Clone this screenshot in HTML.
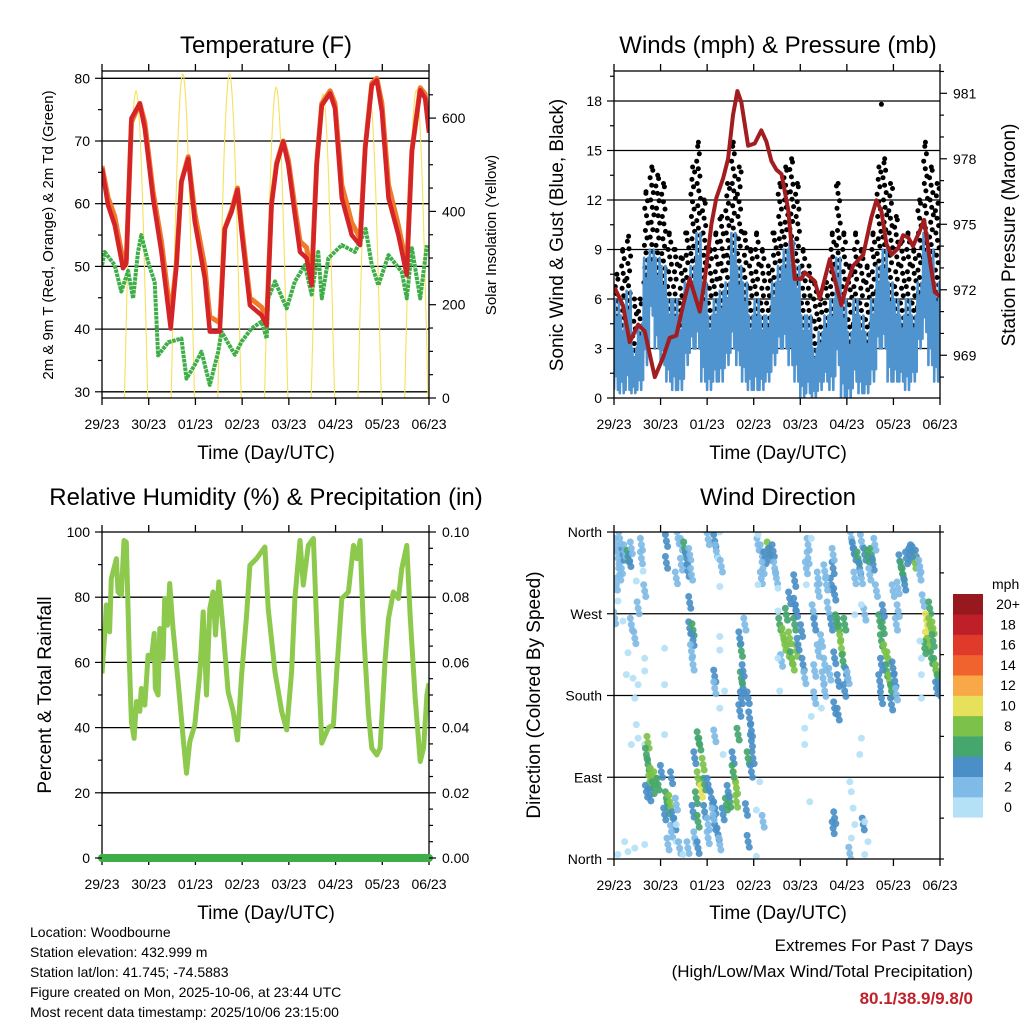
<!DOCTYPE html>
<html><head><meta charset="utf-8"><style>
html,body{margin:0;padding:0;background:#fff;}
svg{display:block;font-family:"Liberation Sans",Arial,sans-serif;}
</style></head><body>
<svg id="chart" width="1024" height="1024" viewBox="0 0 1024 1024" xmlns="http://www.w3.org/2000/svg">
<rect width="1024" height="1024" fill="#fff"/>
<g id="layer"></g>
<text x="266" y="53" font-size="24" text-anchor="middle">Temperature (F)</text>
<text x="778" y="53" font-size="24" text-anchor="middle">Winds (mph) &amp; Pressure (mb)</text>
<text x="266" y="505" font-size="24" text-anchor="middle">Relative Humidity (%) &amp; Precipitation (in)</text>
<text x="778" y="505" font-size="24" text-anchor="middle">Wind Direction</text>
<text transform="translate(53,235) rotate(-90)" font-size="15" text-anchor="middle">2m &amp; 9m T (Red, Orange) &amp; 2m Td (Green)</text>
<text transform="translate(496,235) rotate(-90)" font-size="15" text-anchor="middle">Solar Insolation (Yellow)</text>
<text transform="translate(563,235) rotate(-90)" font-size="19" text-anchor="middle">Sonic Wind &amp; Gust (Blue, Black)</text>
<text transform="translate(1015,235) rotate(-90)" font-size="19" text-anchor="middle">Station Pressure (Maroon)</text>
<text transform="translate(51,695) rotate(-90)" font-size="19" text-anchor="middle">Percent &amp; Total Rainfall</text>
<text transform="translate(540,695) rotate(-90)" font-size="19" text-anchor="middle">Direction (Colored By Speed)</text>
<text x="266" y="459" font-size="19" text-anchor="middle">Time (Day/UTC)</text>
<text x="778" y="459" font-size="19" text-anchor="middle">Time (Day/UTC)</text>
<text x="266" y="919" font-size="19" text-anchor="middle">Time (Day/UTC)</text>
<text x="778" y="919" font-size="19" text-anchor="middle">Time (Day/UTC)</text>
<g font-size="14">
<text x="30" y="937">Location: Woodbourne</text>
<text x="30" y="957">Station elevation: 432.999 m</text>
<text x="30" y="977">Station lat/lon: 41.745; -74.5883</text>
<text x="30" y="997">Figure created on Mon, 2025-10-06, at 23:44 UTC</text>
<text x="30" y="1017">Most recent data timestamp: 2025/10/06 23:15:00</text>
</g>
<text x="973" y="951" font-size="17" text-anchor="end">Extremes For Past 7 Days</text>
<text x="973" y="977" font-size="17" text-anchor="end">(High/Low/Max Wind/Total Precipitation)</text>
<text x="973" y="1004" font-size="17" font-weight="bold" fill="#c0202a" text-anchor="end">80.1/38.9/9.8/0</text>
</svg>
<script>
// ---------- DATA ----------
const dayLabels = ["29/23","30/23","01/23","02/23","03/23","04/23","05/23","06/23"];
const tempTicks = [30,40,50,60,70,80];
const solarTicks = [0,200,400,600];
const speedTicks = [0,3,6,9,12,15,18];
const pressureTicks = [969,972,975,978,981];
const rhTicks = [0,20,40,60,80,100];
const rainTicks = ["0.00","0.02","0.04","0.06","0.08","0.10"];
const dirTicks = ["North","East","South","West","North"];
const speedBins = ["0","2","4","6","8","10","12","14","16","18","20+"];
const speedColors = ["#b5e1f7","#7fbbe6","#4a8fc7","#45a66e","#7cc24a","#e6e05a","#f8a847","#f1632e","#e03a2a","#bf1f28","#97191e"];

const tempHours = [0,3.1,6.5,10.8,12.5,15.1,19.4,22,26.2,30.5,35.3,38.3,40.8,44.3,47.7,52.8,55.4,60.5,63.1,66.6,69.6,71.7,76,82,84.6,87.1,89.7,93.1,95.7,99.1,101.7,105.1,107.7,110.3,112.9,117.2,119.7,123.2,128.3,132.6,135.2,138.6,141.2,143.8,147.2,152.3,156.6,159.2,163.5,166,168];
const temp2m = [65.6,59.8,56.6,49.7,50.5,73.6,76,72,60.9,52.3,40.1,50.2,63.5,67.2,57.1,48.1,39.6,39.6,56,58.7,62.2,55.5,43.8,42.2,40.6,59.8,66.2,69.9,66.2,58.2,52.3,51.3,47,66.2,75.7,77.6,75.2,60.9,55,53.4,68.8,78.9,79.7,74.7,60.9,55,48.6,68.3,78.1,76.8,71.3];
const temp9m = [66,61,58,51,51,73,76,73,62,54,42,50.5,63.5,67.5,58.5,50,42,41,56,59,62.5,56.5,45,43.5,41.5,60,66.5,70,67,59.5,54,53,48,66.5,76,78,76,63,57,54.5,69,79.2,80,76,63,56.5,50,68.5,78.5,77.5,72];
const dewHours = [0,1.4,6.5,9.9,13.4,16,18.5,20.2,23.7,27.1,28.8,34,40.8,43.4,47.7,51.1,55.4,59.7,61.4,68.3,71.7,76.8,82,84.6,85.4,88.9,94.9,99.1,104.3,107.7,111.1,112.9,116.3,123.2,130,133.4,135.5,138.6,142,147.2,154,156.6,159.2,163.5,166.9];
const dewPoint = [50.2,52.3,50.2,46,49.3,44.9,52.3,55,50.7,47.5,35.8,37.9,38.5,32.1,34.3,36.4,31.1,36.4,39.6,35.9,38,40.1,41.2,38.5,44.9,47.6,43.3,47.6,50.2,45.5,52.3,44.9,51.3,53.4,52.3,54.5,56,50.2,47,51.8,49.1,44.9,52.9,44.9,53.4];
const solarPeakHours = [17.5,41.5,65.5,89.5,113.5,137.5,161.5];
const solarPeaks = [658,694,694,666,651,645,660];
const solarHalfDay = 6;

const windGust = [7.5,9,9.8,6,6,12.5,14,13.5, 13,10,9,8.5,10,14,15.5,12, 9,10,11,13,15.5,14,10,9, 10,9,8,10,13,14,14.5,13, 9,8,7,6,7,10,13,10, 8,10,9,8,10,14,14.5,13, 11,9.5,10,9,12,15.5,14,13];
const windHigh = [6,5,6.5,3,4.5,8.5,9,8.5, 8,6,6,5,7,8,10,7, 5,6,6.5,7,10,8,7,5, 6,5,5,7,8,9,9.5,8, 5,5,3,4,5,6,8.5,6, 4,6,5,4,6,8,9,7, 6,5,6,5,7,10,9,7];
const windLow = [0.5,0.3,0.5,0.3,0.5,2,5,3, 2,1,0.5,0.5,2,3,3,1, 0.5,1,1,2,3,2,1,0.5, 0.5,0.5,1,2,3,3,2,1, 0,0.3,0,0.5,1,0.5,2,0, 0,1,0.3,0.3,1,3,3,1, 1,1,0.5,1,3,4,2,1];
const gustOutlier = [137.8,17.8];
const pressureHours = [0.3,4.6,8.1,12.4,15.8,21,25.3,28.7,32.1,35.6,39,44.2,46.7,50.2,52.7,56.2,58.8,61.3,63.6,65.6,69.1,72.5,75.9,78.5,81.1,83.7,86.3,89.7,93.1,96.6,98.3,103.4,106,111.2,113.7,117.2,120.6,123.2,128.4,132.6,135.2,137.8,140.4,143,146.4,149,151.6,154.1,157.6,159.8,162.7,165.3,167.9];
const pressure = [972.1,971.3,969.6,970.4,970.1,968.0,968.9,969.8,969.9,971.3,972.5,971.0,972.4,975.0,976.2,977.1,978.0,980.0,981.1,980.6,978.6,978.7,979.3,978.8,977.9,977.5,977.3,975.7,972.5,972.5,972.8,972.4,971.6,973.4,972.5,971.3,972.4,973.1,973.6,975.3,976.1,975.6,974.1,973.6,973.9,974.5,974.4,974.0,974.7,975.2,973.4,971.9,971.7];

const rhHours = [0,1.4,2.2,3.9,4.8,7.4,8.2,9.9,11.3,12.5,14.2,15.1,16.5,17.7,19.4,20.2,22,23.7,25.4,26.8,27.4,28.8,29.7,31.4,32.2,33.6,34.8,36.5,39.1,41.7,43.4,45.1,47.7,50.3,52,53.7,55.4,57.1,58.3,60,62.3,64.8,67.4,69.6,71.7,74.3,76,79.4,83.7,85.4,88.9,92.3,94.9,97.4,99.1,101.7,103.4,106,108.6,110.3,112.9,116.3,118.9,120.6,123.2,126.6,129.2,130.9,132.6,134.3,136.9,138.6,141.2,142.9,145.5,147.2,149.7,152.3,154,156.6,158.3,160.9,163.5,165.2,166.9,168];
const rhValues = [56.6,68.4,77.6,69.4,85.7,91.8,81.6,80.6,97.4,96.9,58.2,41.8,36.7,48,45,52,46.9,62.2,61.2,68.9,52,50,70.4,61.2,79.6,71.4,84.2,70.4,54.1,36.7,26,35.7,40.8,57.1,75.5,50,76.5,81.6,68.4,84.7,69.4,51,44.9,36.2,56.1,74.5,89.8,91.8,95.4,76.5,57.1,44.9,39.3,57.1,79.6,97.4,83.7,95.9,98,71.4,35.2,40,40.8,57.1,79.6,81.6,95.9,91.8,97.4,70.4,43.9,33.7,31.6,33.7,61.2,73.5,81.6,79.6,88.8,95.9,74.5,49,29.6,33.7,50,53.6];
const rainTotal = [0,0];
const rainHours = [0,168];

// wind direction observations: [hour, degrees, speed mph]
const dirObs = [
[1.2,346,2],[2,331,2],[2.9,313,2],[3.8,320,2],[4.6,335,4],[5.5,339,2],[7.2,333,6],[8.1,328,4],[8.9,342,2],[1.2,302,2],
[2,284,0],[0.3,265,2],[2.9,353,2],[14.1,346,2],[14.1,331,2],[15,317,0],[15.8,295,2],[11.5,306,0],[12.4,276,2],[4.6,262,0],
[8.9,258,2],[10.7,243,2],[7.2,227,0],[15.8,221,0],[6.4,203,0],[15.8,207,0],[9.8,199,0],[12.4,192,0],[10.7,177,0],[11.5,148,0],
[12.4,133,0],[8.9,126,0],[15.8,126,0],[17.5,128,8],[16.7,115,6],[17.5,104,6],[19.2,93,8],[18.4,85,8],[21,89,8],[20.1,78,6],
[22.7,82,6],[16.7,74,4],[24.4,96,4],[18.4,70,4],[27,67,6],[27.8,56,6],[28.7,63,8],[29.6,89,4],[30.4,45,4],[31.3,38,4],
[26.1,49,4],[32.1,60,2],[29.6,30,2],[27.8,16,2],[32.1,19,0],[5.5,19,0],[7.2,8,0],[10.7,12,0],[2,5,0],[15.8,16,0],
[27,350,4],[33,353,2],[34.7,346,2],[36.4,342,6],[37.3,331,4],[39,335,2],[34.7,324,2],[38.1,317,4],[39.9,313,2],[32.1,309,2],
[27,326,4],[39,282,4],[39,254,4],[40.7,252,6],[40.7,241,4],[39.9,229,2],[40.7,214,2],[26.1,232,0],[26.1,192,0],[26.1,137,0],
[43.3,133,6],[44.2,126,6],[41.6,111,4],[45.9,104,8],[43.3,89,8],[45,74,10],[46.7,82,6],[42.4,67,6],[40.7,52,4],[43.3,41,6],
[46.7,52,4],[48.5,82,4],[50.2,67,4],[48.5,38,2],[41.6,23,2],[38.1,12,2],[43.3,12,4],[48.5,23,2],[33.8,12,2],[35.6,5,0],[32.1,38,0],
[48.5,352,2],[51.9,350,4],[52.7,339,2],[54.5,360,0],[53.6,331,0],[55.3,322,2],[54.5,300,0],[51.9,201,4],[51.9,188,2],[54.5,166,0],
[57,185,0],[54.5,230,0],[54.5,245,0],[51.9,135,2],[56.2,115,0],[51.9,56,4],[51.9,38,4],[53.6,27,4],[54.5,16,2],[51,49,2],
[56.2,49,4],[57.9,60,6],[59.6,63,6],[58.8,74,4],[61.3,111,4],[62.2,89,10],[63.1,78,8],[63.1,63,8],[61.3,96,6],[63.9,137,6],
[64.8,163,4],[65.6,177,4],[66.5,188,4],[65.6,199,6],[66.5,207,4],[65.6,229,6],[64.8,243,4],[67.4,258,2],[69.1,177,4],[69.9,155,4],
[70.8,141,4],[70.8,130,4],[71.6,111,4],[69.1,111,6],[70.8,96,4],[68.2,54,4],[69.1,19,4],[73.4,54,0],[75.1,85,0],[76.8,41,2],
[73.4,3,0],[74.2,346,2],[75.9,339,2],[79.4,342,8],[80.2,335,4],[82,339,4],[77.7,331,4],[76.8,320,2],[75.9,309,2],[74.2,302,0],
[82.8,320,2],[83.7,309,2],[74.2,357,0],
[85.4,258,6],[87.1,247,8],[88,236,8],[89.7,229,8],[90.5,243,8],[91.4,221,6],[92.3,214,8],[93.1,258,6],[94,229,8],[94.8,236,4],
[88.8,269,6],[90.5,287,4],[93.1,280,4],[96.6,251,4],[97.4,214,4],[98.3,199,2],[86.3,218,2],[84.5,221,0],[85.4,185,0],[84.5,273,0],
[84.5,298,0],[93.1,306,4],[94,273,4],[99.1,302,0],[100,346,2],[100,331,2],[99.1,320,2],[101.7,353,0],[98.3,144,0],[98.3,126,0],[101.7,157,0],
[102.6,273,2],[103.4,258,4],[105.2,295,2],[106.9,240,2],[108.6,214,2],[110.3,276,2],[111.2,203,2],[112,302,4],[112.9,320,4],[113.7,291,4],
[112,258,4],[108.6,185,2],[107.7,199,2],[103.4,207,2],[105.2,229,2],[106.9,166,0],[103.4,177,2],[113.7,166,4],[115.5,196,4],[113.7,221,4],
[115.5,258,6],[116.3,247,8],[117.2,232,8],[118,218,6],[118.9,258,6],[114.6,262,6],[119.8,203,4],[118.9,185,4],[120.6,199,2],[112.9,335,2],
[109.5,302,2],[108.6,317,2],[105.2,309,2],[113.7,45,4],[112.9,34,4],[115.5,159,4],
[122.3,353,2],[123.2,342,4],[124.1,335,4],[125.8,331,6],[126.6,320,4],[127.5,350,2],[129.2,335,4],[130.9,333,6],[132.6,335,6],[133.5,324,4],
[134.4,346,2],[131.8,313,2],[124.1,309,2],[127.5,309,2],[135.2,295,2],[129.2,269,2],[124.1,269,0],[127.5,280,0],[121.5,85,0],[122.3,74,0],
[123.2,56,0],[122.3,23,0],[124.1,38,0],[121.5,6,2],[128.4,38,4],[129.2,5,0],[127.5,133,0],[126.6,115,0],[129.2,41,0],[130.9,19,0],[100.9,63,0],
[136.9,262,6],[138.7,254,6],[137.8,240,6],[139.5,229,8],[141.2,221,8],[140.4,207,6],[142.1,196,8],[143,185,6],[137.8,214,4],[136.9,196,4],
[137.8,177,4],[143.8,210,4],[144.7,196,4],[143,170,4],[145.5,181,2],[138.7,273,4],[145.5,258,2],[143.8,295,2],
[147.3,328,4],[148.1,320,6],[149,313,6],[149.8,302,4],[150.7,331,4],[152.4,335,4],[154.1,337,4],[155.8,333,4],[155,326,8],[153.3,339,4],
[146.4,298,2],[146.4,273,2],[157.6,322,2],[157.6,313,2],[159.3,284,2],[162.7,276,6],[161,263,10],[162.7,258,8],[164.4,254,8],[161,243,10],
[161.9,236,8],[160.1,232,6],[164.4,240,6],[163.6,221,6],[165.3,214,6],[166.2,207,8],[167,196,6],[166.2,188,4],[167.9,185,4],[158.4,221,0],
[158.4,203,0],[158.4,177,0],[157.6,240,0]
];

// ---------- DRAWING ----------
const NS = "http://www.w3.org/2000/svg";
const layer = document.getElementById("layer");
function mk(tag, attrs, parent){
  const e = document.createElementNS(NS, tag);
  for (const k in attrs) e.setAttribute(k, attrs[k]);
  (parent || layer).appendChild(e);
  return e;
}
const P1 = {x0:102,x1:429,y0:71,y1:398};
const P2 = {x0:614,x1:940,y0:71,y1:398};
const P3 = {x0:102,x1:429,y0:532,y1:858};
const P4 = {x0:614,x1:940,y0:532,y1:859};
function xs(P,h){ return P.x0 + h/168*(P.x1-P.x0); }
const yTemp = t => 78.3 + (80-t)*6.27;
const ySolar = s => 398 - s*0.4665;
const ySpeed = s => 398 - s*16.5;
const yPres = p => 93.3 + (981-p)*21.83;
const yRH = v => 858 - v*3.26;
const yRain = r => 858 - r*3260;
const yDir = d => 532 + (360-d)/360*327;

function gridLine(P,y,name){
  const l = mk("line",{x1:P.x0,x2:P.x1,y1:y,y2:y,stroke:"#000","stroke-width":1.3});
  
  
}
function frame(P,name){
  const r = mk("rect",{x:P.x0,y:P.y0,width:P.x1-P.x0,height:P.y1-P.y0,fill:"none",stroke:"#000","stroke-width":1.3});
  
  
  dayLabels.forEach((lab,i)=>{
    const x = xs(P,i*24);
    const tb = mk("line",{x1:x,x2:x,y1:P.y1,y2:P.y1+7,stroke:"#000","stroke-width":1.3});
    
    
    const tt = mk("line",{x1:x,x2:x,y1:P.y0,y2:P.y0-7,stroke:"#000","stroke-width":1.3});
    
    
    const t = mk("text",{x:x,y:P.y1+31,"font-size":14,"text-anchor":"middle"});
    t.textContent = lab;
    
    
  });
}
function leftTick(P,y,len,label){
  const l = mk("line",{x1:P.x0-len,x2:P.x0,y1:y,y2:y,stroke:"#000","stroke-width":1.2});
  
  
  if (label!==null){
    const t = mk("text",{x:P.x0-12,y:y+5,"font-size":14,"text-anchor":"end"});
    t.textContent = label;
    
    
  }
}
function rightTick(P,y,len,label){
  const l = mk("line",{x1:P.x1,x2:P.x1+len,y1:y,y2:y,stroke:"#000","stroke-width":1.2});
  
  
  if (label!==null){
    const t = mk("text",{x:P.x1+13,y:y+5,"font-size":14,"text-anchor":"start"});
    t.textContent = label;
    
    
  }
}
function pathFrom(hs,vs,P,yf){
  return hs.map((h,i)=>(i?"L":"M")+xs(P,h).toFixed(1)+","+yf(vs[i]).toFixed(1)).join("");
}
function clip(id,P){
  const cp = mk("clipPath",{id:id});
  mk("rect",{x:P.x0,y:P.y0,width:P.x1-P.x0,height:P.y1-P.y0},cp);
}
clip("c1",P1); clip("c2",P2); clip("c3",P3); clip("c4",P4);

// ===== Panel 1: temperature =====
tempTicks.forEach(t=>gridLine(P1,yTemp(t),'temp-gridline'));
const g1 = mk("g",{"clip-path":"url(#c1)"});


solarPeakHours.forEach((ph,i)=>{
  const pts=[];
  for(let k=0;k<=40;k++){
    const h = ph - solarHalfDay + k*(2*solarHalfDay)/40;
    const v = solarPeaks[i]*Math.sin(Math.PI*k/40);
    pts.push((k?"L":"M")+xs(P1,h).toFixed(1)+","+ySolar(v).toFixed(1));
  }
  const s = mk("path",{d:pts.join(""),fill:"none",stroke:"#f7e05a","stroke-width":1.1},g1);
  
  
});
const dew = mk("path",{d:pathFrom(dewHours,dewPoint,P1,yTemp),fill:"none",stroke:"#3fae49","stroke-width":4,"stroke-dasharray":"3.5 0.8","stroke-linejoin":"round"},g1);


const t9 = mk("path",{d:pathFrom(tempHours,temp9m,P1,yTemp),fill:"none",stroke:"#f07a2a","stroke-width":5,"stroke-linejoin":"round"},g1);


const t2 = mk("path",{d:pathFrom(tempHours,temp2m,P1,yTemp),fill:"none",stroke:"#d42428","stroke-width":4.5,"stroke-linejoin":"round"},g1);


frame(P1,'temperature-plot-frame');
for(let t=30;t<=80;t+=5) leftTick(P1,yTemp(t),t%10===0?7:4,t%10===0?String(t):null);
for(let s=0;s<=650;s+=50) rightTick(P1,ySolar(s),solarTicks.includes(s)?7:4,solarTicks.includes(s)?String(s):null);

// ===== Panel 2: winds & pressure =====
speedTicks.slice(1).forEach(s=>gridLine(P2,ySpeed(s),'wind-gridline'));
const g2 = mk("g",{"clip-path":"url(#c2)"});


let gd = "";
windGust.forEach((gv,i)=>{
  const lo = Math.min(windHigh[i], gv) - 1.5;
  let c = 0;
  for(let v=Math.max(lo,0.2); v<=gv; v+=0.45){
    const h = i*3 + 0.4 + ((c*1.37)%2.2);
    gd += "M"+(xs(P2,h)-0.01).toFixed(1)+","+ySpeed(v).toFixed(1)+"h0.02";
    c++;
  }
  gd += "M"+xs(P2,i*3+1.5).toFixed(1)+","+ySpeed(gv).toFixed(1)+"h0.02";
});
gd += "M"+xs(P2,gustOutlier[0]).toFixed(1)+","+ySpeed(gustOutlier[1]).toFixed(1)+"h0.02";
const gustDots = mk("path",{d:gd,stroke:"#000","stroke-width":5,"stroke-linecap":"round",fill:"none"},g2);


let wd = "";
windHigh.forEach((hi,i)=>{
  const lo = windLow[i];
  for(let k=0;k<=6;k++){
    const h = i*3 + k*0.5;
    const v = (k%2===0) ? lo + (k%4===0?0:(hi-lo)*0.15) : hi - (k%3===0?(hi-lo)*0.2:0);
    wd += (wd===""?"M":"L")+xs(P2,h).toFixed(1)+","+ySpeed(v).toFixed(1);
  }
});
const windLine = mk("path",{d:wd,fill:"none",stroke:"#4f93cf","stroke-width":2.6,"stroke-linejoin":"round"},g2);


const pres = mk("path",{d:pathFrom(pressureHours,pressure,P2,yPres),fill:"none",stroke:"#a21d1f","stroke-width":4,"stroke-linejoin":"round"},g2);


frame(P2,'wind-plot-frame');
for(let s=0;s<=19.5;s+=1.5) leftTick(P2,ySpeed(s),(s%3===0)?7:4,(s%3===0)?String(s):null);
for(let p=968;p<=982;p++) rightTick(P2,yPres(p),pressureTicks.includes(p)?7:4,pressureTicks.includes(p)?String(p):null);

// ===== Panel 3: RH =====
rhTicks.slice(1,5).forEach(v=>gridLine(P3,yRH(v),'rh-gridline'));
const g3 = mk("g",{"clip-path":"url(#c3)"});


const rh = mk("path",{d:pathFrom(rhHours,rhValues,P3,yRH),fill:"none",stroke:"#8dc94d","stroke-width":5,"stroke-linejoin":"round"},g3);


frame(P3,'rh-plot-frame');
const rain = mk("path",{d:pathFrom(rainHours,rainTotal,P3,yRain),fill:"none",stroke:"#3fae49","stroke-width":8,"stroke-linecap":"round"});


for(let v=0;v<=100;v+=10) leftTick(P3,yRH(v),v%20===0?7:4,v%20===0?String(v):null);
for(let k=0;k<=20;k++){ const r=k*0.005; rightTick(P3,yRain(r),k%4===0?7:4,k%4===0?rainTicks[k/4]:null); }

// ===== Panel 4: wind direction =====
[90,180,270].forEach(d=>gridLine(P4,yDir(d),'direction-gridline'));
const g4 = mk("g",{"clip-path":"url(#c4)"});


const satellites = [[0,0],[0.6,-6],[-0.5,7]];
dirObs.forEach(o=>{
  const bin = Math.min(10, Math.floor(o[2]/2));
  const n = o[2] >= 2 ? 3 : 1;
  for(let k=0;k<n;k++){
    const c = mk("circle",{cx:xs(P4,o[0]+satellites[k][0]).toFixed(1),cy:yDir(o[1]+satellites[k][1]).toFixed(1),r:3.5,fill:speedColors[bin],"fill-opacity":0.92},g4);
    
    
  }
});
frame(P4,'direction-plot-frame');
dirTicks.forEach((lab,i)=>leftTick(P4,yDir(i*90),7,lab));
for(let d=0;d<=360;d+=45) rightTick(P4,yDir(d),4,null);

// legend
const lg = mk("g",{});


const mph = mk("text",{x:992,y:589,"font-size":14},lg);
mph.textContent = "mph";


speedBins.forEach((lab,i)=>{
  const j = speedBins.length-1-i;
  const y = 594 + j*20.3;
  const r = mk("rect",{x:953,y:y,width:30,height:20.6,fill:speedColors[i]},lg);
  
  
  const t = mk("text",{x:1008,y:y+15,"font-size":14,"text-anchor":"middle"},lg);
  t.textContent = lab;
  
  
});
</script>
</body></html>
